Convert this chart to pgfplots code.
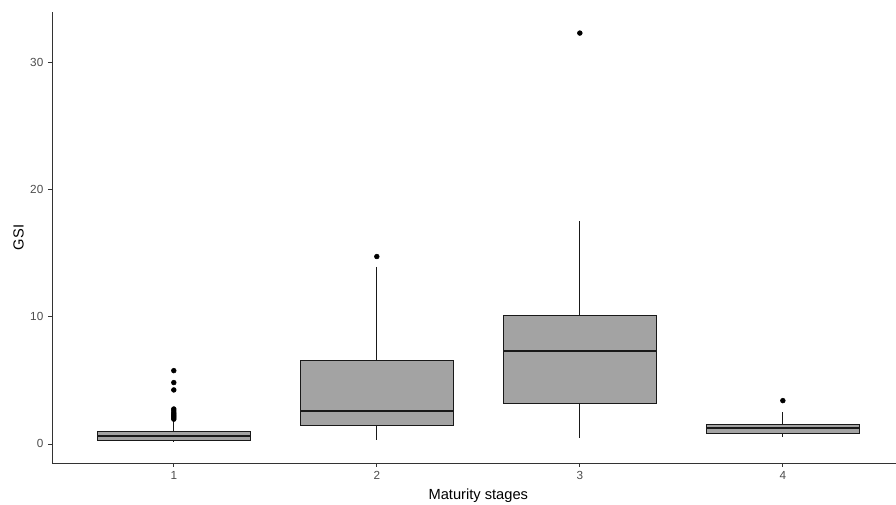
\documentclass[border=0pt]{standalone}
\usepackage{pgfplots}
\pgfplotsset{compat=1.18}
\usepgfplotslibrary{statistics}
\usepackage{fontspec}
\setmainfont{Liberation Sans}
\definecolor{boxfill}{RGB}{163,163,163}
\definecolor{ticklab}{RGB}{77,77,77}
\begin{document}
\begin{tikzpicture}
\useasboundingbox (-39pt,-31.5pt) rectangle (633pt,347.25pt);
\begin{axis}[
  scale only axis, width=639.5pt, height=338.25pt,
  xmin=0.4, xmax=4.6, ymin=-1.5, ymax=34,
  axis lines=left, axis line style={-, draw=black!80, line width=0.6pt},
  xtick={1,2,3,4}, ytick={0,10,20,30},
  tick align=outside, major tick length=3pt,
  tick style={draw=black!80, line width=0.6pt},
  ticklabel style={font=\fontsize{8.8}{10}\selectfont, text=ticklab},
  /pgf/number format/assume math mode=true,
  xlabel={Maturity stages}, ylabel={GSI},
  label style={font=\fontsize{11}{13}\selectfont},
  ylabel shift=-2pt,
  boxplot/draw direction=y,
  boxplot/every median/.style={line width=1.6pt},
  boxplot/every box/.style={line width=0.65pt},
  boxplot/every whisker/.style={line width=0.6pt},
  clip=false,
]
\addplot[boxplot prepared={draw position=1, lower whisker=0.18, lower quartile=0.31, median=0.65, upper quartile=1.02, upper whisker=1.85, box extend=0.75, whisker extend=0},
  fill=boxfill, draw=black!90, mark=*, mark size=1.8pt, mark options={fill=black, draw=black}]
  table[row sep=\\, y index=0]{data\\ 1.95\\ 2.05\\ 2.15\\ 2.25\\ 2.35\\ 2.45\\ 2.6\\ 2.75\\ 4.25\\ 4.83\\ 5.77\\};
\addplot[boxplot prepared={draw position=2, lower whisker=0.31, lower quartile=1.44, median=2.62, upper quartile=6.56, upper whisker=13.96, box extend=0.75, whisker extend=0},
  fill=boxfill, draw=black!90, mark=*, mark size=1.8pt, mark options={fill=black, draw=black}]
  table[row sep=\\, y index=0]{data\\ 14.75\\};
\addplot[boxplot prepared={draw position=3, lower whisker=0.45, lower quartile=3.2, median=7.32, upper quartile=10.08, upper whisker=17.56, box extend=0.75, whisker extend=0},
  fill=boxfill, draw=black!90, mark=*, mark size=1.8pt, mark options={fill=black, draw=black}]
  table[row sep=\\, y index=0]{data\\ 32.34\\};
\addplot[boxplot prepared={draw position=4, lower whisker=0.53, lower quartile=0.84, median=1.23, upper quartile=1.5, upper whisker=2.5, box extend=0.75, whisker extend=0},
  fill=boxfill, draw=black!90, mark=*, mark size=1.8pt, mark options={fill=black, draw=black}]
  table[row sep=\\, y index=0]{data\\ 3.41\\};
\end{axis}
\end{tikzpicture}
\end{document}
